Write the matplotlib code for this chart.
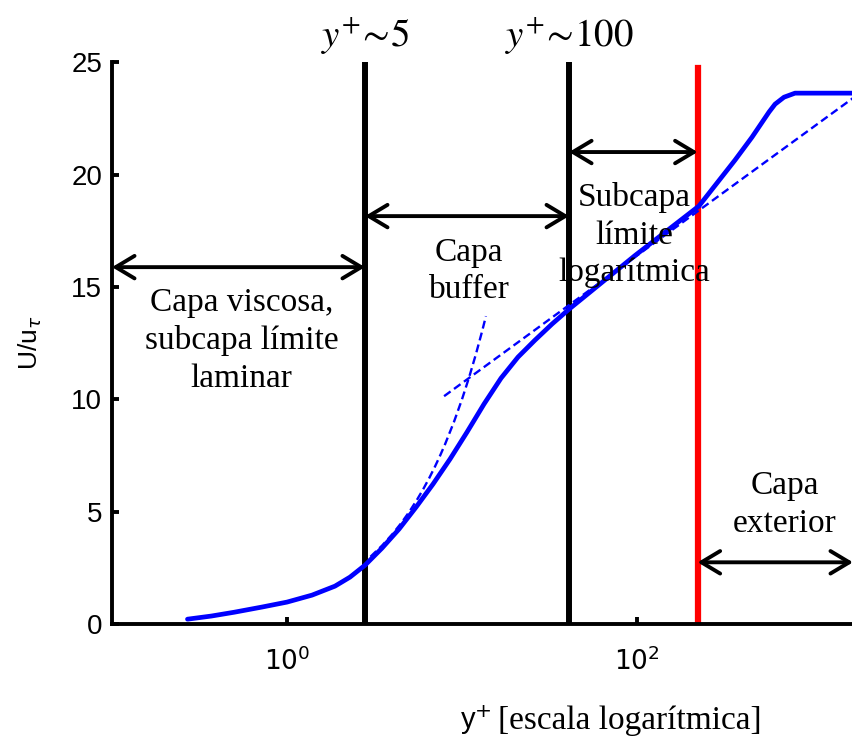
import numpy as np
import matplotlib
matplotlib.use("Agg")
import matplotlib.pyplot as plt

plt.rcParams['mathtext.fontset'] = 'stix'
plt.rcParams['font.family'] = ['Liberation Sans', 'DejaVu Sans']

# velocity profile U/u_tau vs y+
yplus = [0.27, 0.37, 0.50, 0.72, 1.0, 1.39, 1.88, 2.29, 2.79, 3.49, 4.37, 5.46,
         6.83, 8.54, 10.68, 13.36, 16.71, 20.9, 26.1, 32.7, 40.9, 97.5, 226,
         363, 454, 568, 615, 692, 800, 1715]
uplus = [0.22, 0.36, 0.53, 0.76, 0.98, 1.29, 1.69, 2.09, 2.62, 3.38, 4.23, 5.20,
         6.23, 7.34, 8.54, 9.79, 10.94, 11.88, 12.63, 13.35, 14.01, 16.4, 18.6,
         20.64, 21.66, 22.78, 23.13, 23.44, 23.62, 23.62]

# viscous sublayer u+ = y+ (dashed)
visc_x = [3.0, 3.5, 4.0, 4.5, 5.0, 5.5, 6.0, 6.5, 7.0, 7.5, 8.0, 9.0,
          10.0, 11.0, 12.0, 13.0, 13.7]
visc_u = [3.0, 3.5, 4.0, 4.5, 5.0, 5.5, 6.0, 6.5, 7.0, 7.5, 8.0, 9.0,
          10.0, 11.0, 12.0, 13.0, 13.7]

# log law (dashed, straight on semilog axes)
loglaw_x = [7.9, 1715]
loglaw_u = [10.14, 23.4]

# region boundaries
x_visc = 2.79
x_log = 40.9
x_outer = 222
x_min, x_max = 0.1, 1715

SERIF = 'Liberation Serif'

fig = plt.figure(figsize=(8.53, 7.36), dpi=100)
ax = fig.add_axes([0.1313, 0.152, 0.8687, 0.7636])

ax.plot(yplus, uplus, color='#0000ff', lw=3.4, solid_capstyle='round',
        solid_joinstyle='round', zorder=3)
ax.plot(visc_x, visc_u, color='#0000ff', lw=1.7, dashes=(3.4, 1.8), zorder=3)
ax.plot(loglaw_x, loglaw_u, color='#0000ff', lw=1.7, dashes=(3.4, 1.8), zorder=3)

ax.plot([x_visc, x_visc], [0, 25], color='black', lw=4.3, zorder=2)
ax.plot([x_log, x_log], [0, 25], color='black', lw=4.3, zorder=2)
ax.plot([x_outer, x_outer], [0, 24.73], color='#ff0000', lw=4.5, zorder=2)

# double-headed arrows spanning each layer
arrows = [(x_min, x_visc, 15.88), (x_visc, x_log, 18.15),
          (x_log, x_outer, 21.0), (x_outer, x_max, 2.75)]
for xa, xb, yv in arrows:
    ax.annotate('', xy=(xb, yv), xytext=(xa, yv),
                arrowprops=dict(arrowstyle='<->,head_length=0.75,head_width=0.45',
                                lw=2.8, color='black', shrinkA=0, shrinkB=0,
                                mutation_scale=18),
                annotation_clip=False, zorder=4)

txt = dict(family=SERIF, fontsize=24, ha='center', va='center', linespacing=1.3)
ax.text(0.55, 12.6, 'Capa viscosa,\nsubcapa límite\nlaminar', **txt)
ax.text(10.96, 15.7, 'Capa\nbuffer', **txt)
ax.text(96, 17.3, 'Subcapa\nlímite\nlogarítmica', **txt)
ax.text(701, 5.3, 'Capa\nexterior', **txt)

ax.text(x_visc, 26.2, r'$y^{+}\!\sim\!5$', fontsize=28, ha='center', va='center')
ax.text(x_log, 26.2, r'$y^{+}\!\sim\!100$', fontsize=28, ha='center', va='center')

ax.set_xscale('log')
ax.set_xlim(x_min, x_max)
ax.set_ylim(0, 25)
ax.set_xticks([1, 100])
ax.set_xticklabels([r'$10^{0}$', r'$10^{2}$'])
for lbl in ax.get_xticklabels():
    lbl.set_math_fontfamily('dejavusans')
ax.xaxis.set_minor_locator(matplotlib.ticker.NullLocator())
ax.set_yticks([0, 5, 10, 15, 20, 25])

for side in ['top', 'right']:
    ax.spines[side].set_visible(False)
for side in ['left', 'bottom']:
    ax.spines[side].set_linewidth(2.8)
ax.tick_params(direction='in', length=5, width=2.8, labelsize=20, pad=7)
ax.tick_params(axis='x', labelsize=19, pad=16)

ylab = ax.set_ylabel(r'U/u$_{\tau}$', fontsize=19)
ylab.set_math_fontfamily('dejavusans')
ax.yaxis.set_label_coords(-0.092, 0.5)

# x label: sans "y+" followed by serif text
xl = fig.text(0.539, 0.0095, r'y$^{+}$', fontsize=21, ha='left', va='baseline')
xl.set_math_fontfamily('dejavusans')
fig.text(0.584, 0.0095, '[escala logarítmica]', family=SERIF, fontsize=24,
         ha='left', va='baseline')

fig.savefig('out.png', dpi=100)
